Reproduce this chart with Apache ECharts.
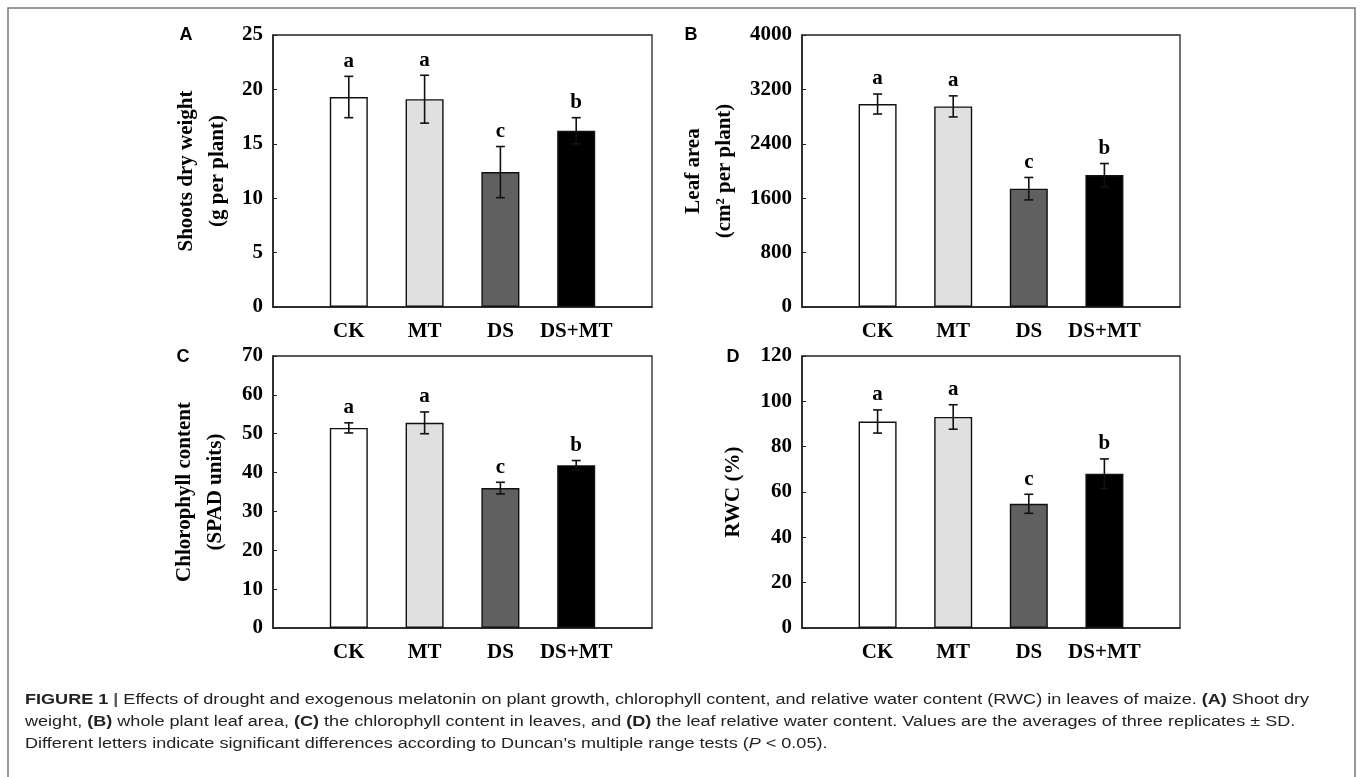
<!DOCTYPE html>
<html>
<head>
<meta charset="utf-8">
<script src="https://cdn.jsdelivr.net/npm/echarts@6/dist/echarts.min.js"></script>
<style>
  html, body { margin: 0; padding: 0; background: #fff; }
  #main { width: 1360px; height: 777px; }
</style>
</head>
<body>
<div id="main"></div>
<script>
// treatments
const categories = ['CK', 'MT', 'DS', 'DS+MT'];
const letters = {
  shoot: ['a', 'a', 'c', 'b'],
  leaf: ['a', 'a', 'c', 'b'],
  chl: ['a', 'a', 'c', 'b'],
  rwc: ['a', 'a', 'c', 'b']
};
// A shoots dry weight (g per plant)
const shootMean = [19.3, 19.1, 12.4, 16.2];
const shootSD = [1.9, 2.2, 2.35, 1.2];
// B leaf area (cm2 per plant)
const leafMean = [2985, 2950, 1740, 1940];
const leafSD = [147, 155, 165, 170];
// C chlorophyll content (SPAD units)
const chlMean = [51.5, 52.8, 36.0, 41.9];
const chlSD = [1.3, 2.8, 1.5, 1.2];
// D RWC (%)
const rwcMean = [91.1, 93.1, 54.8, 68.0];
const rwcSD = [5.1, 5.4, 4.2, 6.6];

const barColors = ['#ffffff', '#e0e0e0', '#606060', '#000000'];
const serif = 'Liberation Serif';
const fs = 21;
const xCats = [''].concat(categories, ['']);

const panels = [
  {key: 'A', left: 273, top: 35, width: 379, mean: shootMean, sd: shootSD, lt: letters.shoot,
   max: 25, interval: 5, name: 'Shoots dry weight\n(g per plant)', gap: 40},
  {key: 'B', left: 802, top: 35, width: 378, mean: leafMean, sd: leafSD, lt: letters.leaf,
   max: 4000, interval: 800, name: 'Leaf area\n(cm² per plant)', gap: 62},
  {key: 'C', left: 273, top: 356, width: 379, mean: chlMean, sd: chlSD, lt: letters.chl,
   max: 70, interval: 10, name: 'Chlorophyll content\n(SPAD units)', gap: 42},
  {key: 'D', left: 802, top: 356, width: 378, mean: rwcMean, sd: rwcSD, lt: letters.rwc,
   max: 120, interval: 20, name: 'RWC (%)', gap: 53}
];

const grid = [], xAxis = [], yAxis = [], series = [];
panels.forEach(function (p, i) {
  grid.push({left: p.left, top: p.top, width: p.width, height: 272,
    show: true, borderColor: '#222', borderWidth: 1.3, backgroundColor: 'transparent'});
  xAxis.push({
    type: 'category', gridIndex: i, data: xCats, boundaryGap: false,
    axisLine: {lineStyle: {color: '#222', width: 1.6}},
    axisTick: {show: false},
    axisLabel: {color: '#000', fontFamily: serif, fontWeight: 'bold', fontSize: fs, margin: 14, interval: 0}
  });
  yAxis.push({
    type: 'value', gridIndex: i, min: 0, max: p.max, interval: p.interval,
    axisLine: {show: true, lineStyle: {color: '#222', width: 1.6}},
    axisTick: {show: true, inside: true, length: 4, lineStyle: {color: '#222'}},
    splitLine: {show: false},
    axisLabel: {color: '#000', fontFamily: serif, fontWeight: 'bold', fontSize: fs, margin: 10,
      formatter: function (v) { return String(v); }},
    name: p.name, nameLocation: 'middle', nameRotate: 90, nameGap: p.gap,
    nameTextStyle: {color: '#000', fontFamily: serif, fontWeight: 'bold', fontSize: fs, lineHeight: 31}
  });
  const barData = [null];
  const errData = [];
  p.mean.forEach(function (m, j) {
    barData.push({value: m, itemStyle: {color: barColors[j]}});
    errData.push([j + 1, m, p.sd[j], p.lt[j]]);
  });
  barData.push(null);
  series.push({
    type: 'bar', xAxisIndex: i, yAxisIndex: i, data: barData, barWidth: 38,
    itemStyle: {borderColor: '#111', borderWidth: 1.4}, silent: true
  });
  series.push({
    type: 'custom', xAxisIndex: i, yAxisIndex: i, data: errData, z: 5, silent: true,
    renderItem: function (params, api) {
      const x = api.value(0), m = api.value(1), s = api.value(2);
      const hi = api.coord([x, m + s]);
      const lo = api.coord([x, m - s]);
      const cx = hi[0], cw = 4.5;
      const st = {stroke: '#111', lineWidth: 1.6};
      return {
        type: 'group',
        children: [
          {type: 'line', shape: {x1: cx, y1: hi[1], x2: cx, y2: lo[1]}, style: st},
          {type: 'line', shape: {x1: cx - cw, y1: hi[1], x2: cx + cw, y2: hi[1]}, style: st},
          {type: 'line', shape: {x1: cx - cw, y1: lo[1], x2: cx + cw, y2: lo[1]}, style: st},
          {type: 'text', style: {x: cx, y: hi[1] - 15, text: errData[params.dataIndex][3],
            fill: '#000', font: 'bold 21px "Liberation Serif"', align: 'center', verticalAlign: 'middle'}}
        ]
      };
    }
  });
});

const panelLetters = [
  {t: 'A', x: 186, y: 35}, {t: 'B', x: 691, y: 35},
  {t: 'C', x: 183, y: 357}, {t: 'D', x: 733, y: 357}
];
const graphic = [
  {type: 'rect', shape: {x: 8, y: 8, width: 1347, height: 800},
   style: {fill: 'none', stroke: '#777', lineWidth: 1.5}, silent: true}
];
panelLetters.forEach(function (l) {
  graphic.push({type: 'text', x: l.x, y: l.y, style: {text: l.t, fill: '#000',
    font: 'bold 18px "Liberation Sans"', align: 'center', verticalAlign: 'middle'}});
});

const captionLines = [
  '{b|FIGURE 1} {bar||} Effects of drought and exogenous melatonin on plant growth, chlorophyll content, and relative water content (RWC) in leaves of maize. {b|(A)} Shoot dry',
  'weight, {b|(B)} whole plant leaf area, {b|(C)} the chlorophyll content in leaves, and {b|(D)} the leaf relative water content. Values are the averages of three replicates ± SD.',
  'Different letters indicate significant differences according to Duncan\u2019s multiple range tests ({i|P} < 0.05).'
];
const capFont = 15.5;
captionLines.forEach(function (s, k) {
  graphic.push({type: 'text', x: 25, y: 700 + k * 22, scaleX: 1.165, style: {
    text: s, fill: '#222', font: capFont + 'px "Liberation Sans"', verticalAlign: 'middle',
    rich: {
      b: {fontWeight: 'bold', fontSize: capFont, fontFamily: 'Liberation Sans', fill: '#222'},
      bar: {fontWeight: 'bold', fontSize: capFont, fontFamily: 'Liberation Sans', fill: '#555'},
      i: {fontStyle: 'italic', fontSize: capFont, fontFamily: 'Liberation Sans', fill: '#222'}
    }
  }});
});

const chart = echarts.init(document.getElementById('main'));
chart.setOption({
  animation: false,
  backgroundColor: '#fff',
  grid: grid, xAxis: xAxis, yAxis: yAxis, series: series, graphic: graphic
});
</script>
</body>
</html>
